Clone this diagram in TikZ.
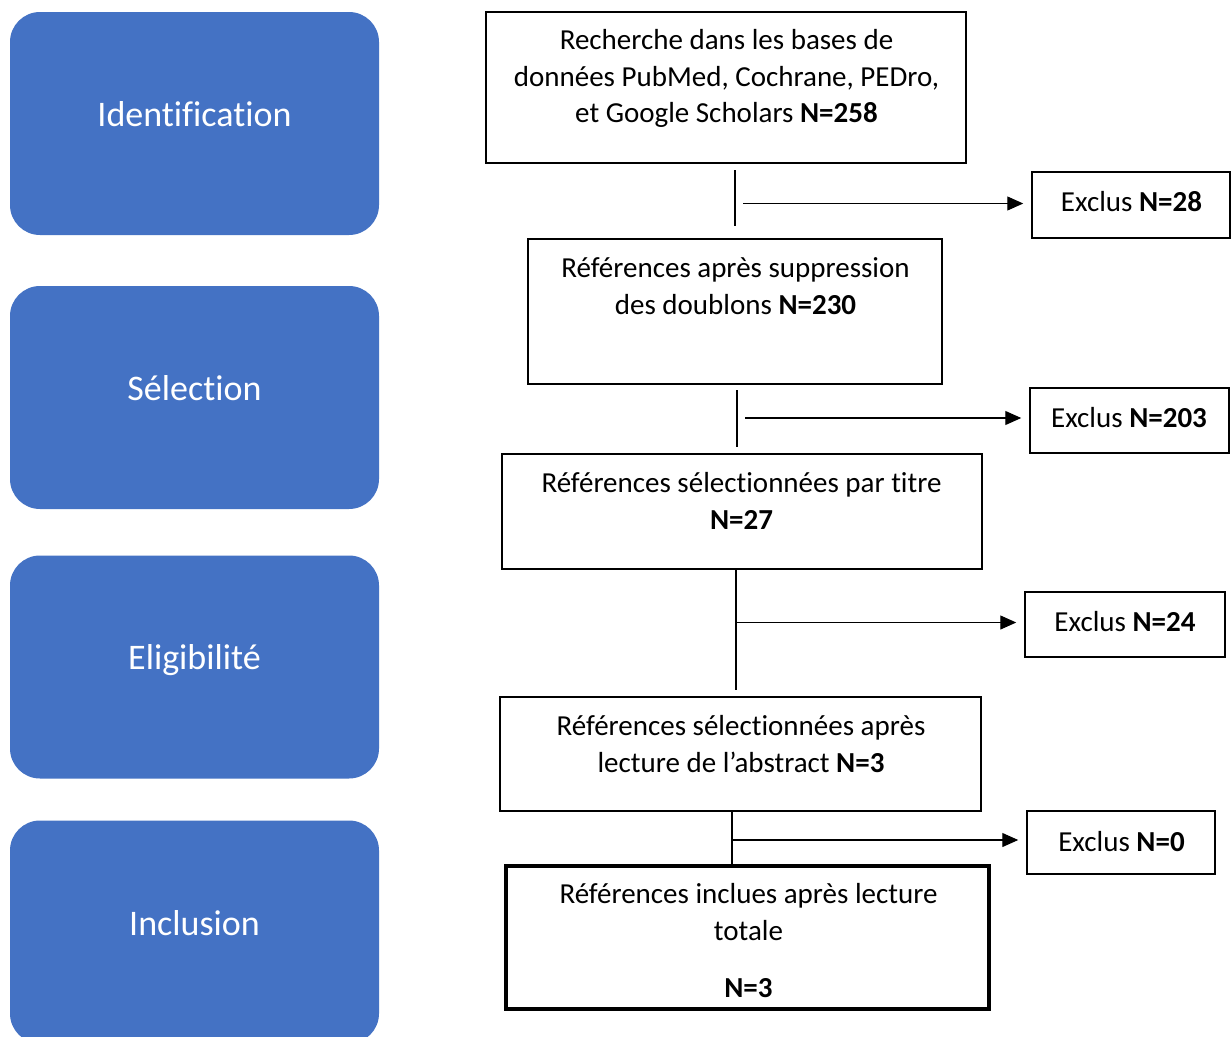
\documentclass[tikz,border=0pt]{standalone}
\usepackage{fontspec}
\setmainfont[Ligatures=NoCommon]{Carlito}
\usetikzlibrary{arrows.meta}
\definecolor{phaseblue}{RGB}{68,114,196}
\newcommand\flowlines[1]{\parbox[t]{470pt}{\centering #1}}
\tikzset{
  phase/.style={fill=phaseblue, draw=none, rounded corners=30pt, minimum width=369pt, minimum height=223pt, inner sep=0pt},
  phasetext/.style={text=white, font=\fontsize{36}{43}\selectfont, anchor=base, inner sep=0pt},
  flowbox/.style={draw=black, line width=1.5pt, inner sep=0pt},
  finalbox/.style={draw=black, line width=4pt, inner sep=0pt},
  flowtext/.style={font=\fontsize{29}{36.5}\selectfont, anchor=base, inner sep=0pt},
  link/.style={draw=black, line width=1.2pt},
  arrowlink/.style={link, -{Triangle[length=16pt,width=14pt]}, shorten >=8pt}
}
\begin{document}
\begin{tikzpicture}[x=1pt,y=-1pt]
\useasboundingbox (0,0) rectangle (1231,1036);
\clip (0,0) rectangle (1231,1036);
\fill[white] (0,0) rectangle (1231,1036);

% phase boxes
\node[phase] (p1) at (194.5,123.5) {};
\node[phase] (p2) at (194.5,397.5) {};
\node[phase] (p3) at (194.5,667) {};
\node[phase] (p4) at (194.5,932) {};
\node[phasetext] (p1t) at (194.5,126) {Identification};
\node[phasetext] (p2t) at (194.5,400) {Sélection};
\node[phasetext] (p3t) at (194.5,669.5) {Eligibilité};
\node[phasetext] (p4t) at (194.5,935) {Inclusion};

% flow boxes
\node[flowbox, minimum width=480pt, minimum height=151pt] (b1) at (726,87.5) {};
\node[flowbox, minimum width=414pt, minimum height=145pt] (b2) at (735,311.5) {};
\node[flowbox, minimum width=480pt, minimum height=115pt] (b3) at (742,511.5) {};
\node[flowbox, minimum width=481pt, minimum height=114pt] (b4) at (740.5,754) {};
\node[finalbox, minimum width=483pt, minimum height=143pt] (b5) at (747.5,937.5) {};

\node[flowtext] (t1) at (726.5,49.5) {\flowlines{Recherche dans les bases de\\données PubMed, Cochrane, PEDro,\\et Google Scholars \textbf{N=258}}};
\node[flowtext] (t2) at (735.5,277.5) {\flowlines{Références après suppression\\des doublons \textbf{N=230}}};
\node[flowtext] (t3) at (741.5,492.5) {\flowlines{Références sélectionnées par titre\\\textbf{N=27}}};
\node[flowtext] (t4) at (741,735.5) {\flowlines{Références sélectionnées après\\lecture de l’abstract \textbf{N=3}}};
\node[flowtext] (t5) at (748.5,903.5) {\flowlines{Références inclues après lecture\\totale\\[20.5pt]\textbf{N=3}}};

% excluded boxes
\node[flowbox, minimum width=198pt, minimum height=66pt] (e1) at (1131,205) {};
\node[flowbox, minimum width=199pt, minimum height=65pt] (e2) at (1129.5,420.5) {};
\node[flowbox, minimum width=200pt, minimum height=65pt] (e3) at (1125,624.5) {};
\node[flowbox, minimum width=188pt, minimum height=63pt] (e4) at (1121,842.5) {};
\node[flowtext] (e1t) at (1131.5,211) {Exclus \textbf{N=28}};
\node[flowtext] (e2t) at (1129,427) {Exclus \textbf{N=203}};
\node[flowtext] (e3t) at (1125,631) {Exclus \textbf{N=24}};
\node[flowtext] (e4t) at (1121.5,851) {Exclus \textbf{N=0}};

% connectors
\coordinate (v1a) at (735,170);
\coordinate (v1b) at (735,226);
\coordinate (h1) at (743,203.5);
\draw[link] (v1a) -- (v1b);
\draw[arrowlink] (h1) -- (h1 -| e1.west);

\coordinate (v2a) at (737,390);
\coordinate (v2b) at (737,447);
\coordinate (h2) at (745,418);
\draw[link] (v2a) -- (v2b);
\draw[arrowlink] (h2) -- (h2 -| e2.west);

\coordinate (v3b) at (736,690);
\coordinate (h3) at (736,622.5);
\draw[link] (b3.south -| v3b) -- (v3b);
\draw[arrowlink] (h3) -- (h3 -| e3.west);

\coordinate (h4) at (732,840);
\draw[link] (b4.south -| h4) -- (b5.north -| h4);
\draw[arrowlink] (h4) -- (h4 -| e4.west);
\end{tikzpicture}
\end{document}
